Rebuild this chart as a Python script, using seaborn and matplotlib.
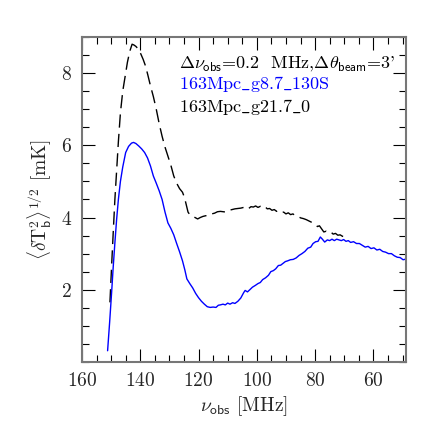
"""Rms brightness temperature fluctuation vs observed frequency."""

import matplotlib
matplotlib.use("Agg")
import matplotlib.pyplot as plt
import pandas as pd
import seaborn as sns
from matplotlib.ticker import MultipleLocator

# blue solid: 163Mpc_g8.7_130S
nu_blue = [151.2, 150.5, 149.8, 149.3, 148.7, 148.1, 147.5, 146.8, 146.0, 145.0,
           144.0, 143.0, 142.3, 141.5, 140.5, 139.5, 138.5, 137.5, 136.5, 135.5,
           134.5, 133.5, 132.5, 131.5, 130.5, 129.5, 128.5, 127.5, 126.5, 125.5,
           124.7, 124.0, 123.0, 122.0, 121.0, 120.0, 119.0, 118.0, 117.0, 116.0,
           115.0, 114.0, 113.2, 112.5, 111.6, 110.8, 110.0, 109.2, 108.3, 107.5,
           106.5, 105.5, 104.5, 104.0, 103.2, 102.4, 101.5, 100.5, 99.6, 98.8,
           98.0, 97.0, 96.0, 95.2, 94.3, 93.5, 92.6, 91.8, 91.0, 90.2,
           89.4, 88.5, 87.5, 86.5, 85.5, 84.5, 83.5, 82.5, 81.5, 80.7,
           79.8, 79.0, 78.2, 77.5, 76.7, 75.8, 75.0, 74.2, 73.4, 72.6,
           71.8, 71.0, 70.2, 69.4, 68.6, 67.8, 66.8, 65.8, 64.8, 63.8,
           62.8, 61.8, 60.8, 59.8, 58.8, 57.8, 56.8, 55.8, 54.8, 53.8,
           52.8, 51.8, 50.8, 49.8, 48.8]
dT_blue = [0.31, 1.1, 1.95, 2.6, 3.3, 3.95, 4.5, 5.0, 5.4, 5.8,
           5.97, 6.06, 6.08, 6.05, 5.98, 5.9, 5.8, 5.65, 5.43, 5.15,
           4.95, 4.74, 4.5, 4.15, 3.85, 3.7, 3.52, 3.28, 3.05, 2.8,
           2.55, 2.3, 2.17, 2.05, 1.9, 1.78, 1.68, 1.6, 1.53, 1.51,
           1.52, 1.51, 1.57, 1.58, 1.60, 1.58, 1.63, 1.60, 1.64, 1.62,
           1.68, 1.77, 1.92, 1.98, 1.94, 2.0, 2.07, 2.12, 2.17, 2.2,
           2.28, 2.33, 2.40, 2.5, 2.53, 2.58, 2.67, 2.68, 2.73, 2.78,
           2.80, 2.83, 2.84, 2.88, 2.95, 3.0, 3.06, 3.15, 3.18, 3.28,
           3.33, 3.34, 3.46, 3.40, 3.32, 3.38, 3.36, 3.40, 3.36, 3.40,
           3.38, 3.36, 3.39, 3.34, 3.36, 3.31, 3.33, 3.28, 3.28, 3.23,
           3.18, 3.20, 3.14, 3.16, 3.10, 3.12, 3.06, 3.04, 3.00, 3.00,
           2.94, 2.90, 2.89, 2.83, 2.85]

# black dashed: 163Mpc_g21.7_0
nu_black = [150.4, 149.8, 149.2, 148.7, 148.1, 147.5, 146.8, 146.0, 145.2, 144.4,
            143.6, 142.8, 142.2, 141.5, 140.6, 139.8, 139.0, 138.2, 137.4, 136.5,
            135.5, 134.5, 133.5, 132.5, 131.5, 130.5, 129.5, 128.5, 127.5, 126.5,
            125.5, 124.8, 124.2, 123.6, 123.0, 122.2, 121.2, 120.3, 119.4, 118.5,
            117.5, 116.5, 115.5, 114.5, 113.5, 112.5, 111.5, 110.5, 109.5, 108.5,
            107.5, 106.5, 105.5, 104.5, 103.5, 102.8, 102.0, 101.2, 100.4, 99.6,
            98.8, 98.0, 97.2, 96.4, 95.6, 94.8, 94.0, 93.2, 92.4, 91.6,
            90.8, 90.0, 89.2, 88.4, 87.6, 86.8, 86.0, 85.0, 84.0, 83.0,
            82.0, 81.0, 80.0, 79.2, 78.5, 77.8, 77.0, 76.2, 75.4, 74.6,
            73.8, 73.0, 72.2, 71.4, 70.6, 70.0]
dT_black = [1.65, 2.7, 3.7, 4.5, 5.3, 6.1, 6.9, 7.5, 7.9, 8.3,
            8.6, 8.8, 8.78, 8.74, 8.66, 8.53, 8.38, 8.2, 7.95, 7.65,
            7.35, 7.0, 6.6, 6.25, 5.95, 5.7, 5.45, 5.15, 4.95, 4.8,
            4.7, 4.55, 4.35, 4.15, 4.08, 4.04, 4.0, 3.96, 4.0, 4.03,
            4.05, 4.05, 4.1, 4.12, 4.16, 4.17, 4.16, 4.15, 4.2, 4.22,
            4.24, 4.25, 4.26, 4.28, 4.3, 4.25, 4.3, 4.29, 4.32, 4.28,
            4.31, 4.27, 4.3, 4.24, 4.25, 4.2, 4.22, 4.17, 4.19, 4.14,
            4.15, 4.1, 4.13, 4.08, 4.1, 4.05, 4.04, 3.99, 3.97, 3.94,
            3.9, 3.86, 3.82, 3.75, 3.77, 3.69, 3.60, 3.62, 3.58, 3.60,
            3.54, 3.56, 3.51, 3.52, 3.48, 3.47]

x_ticks = [160, 140, 120, 100, 80, 60]
y_ticks = [2, 4, 6, 8]

# cmr10 has no real underscore, take it from cmtt10 through mathtext
US = r"$\mathtt{\_}$"
label_blue = "163Mpc" + US + "g8.7" + US + "130S"
label_black = "163Mpc" + US + "g21.7" + US + "0"

sns.set_style("ticks")
plt.rcParams["font.family"] = ["cmr10", "DejaVu Serif"]
plt.rcParams["mathtext.fontset"] = "cm"
plt.rcParams["axes.formatter.use_mathtext"] = True

blue = pd.DataFrame({"nu": nu_blue, "dT": dT_blue})
black = pd.DataFrame({"nu": nu_black, "dT": dT_black})

fig = plt.figure(figsize=(4.43, 4.43), dpi=100)
ax = fig.add_axes([0.185, 0.183, 0.7315, 0.7335])

sns.lineplot(data=black, x="nu", y="dT", sort=False, estimator=None, ax=ax,
             color="black", linewidth=1.0, linestyle=(0, (9.5, 4.5)))
sns.lineplot(data=blue, x="nu", y="dT", sort=False, estimator=None, ax=ax,
             color="blue", linewidth=1.0)

ax.set_xlim(160, 48.8)
ax.set_ylim(0, 9)
ax.set_xticks(x_ticks)
ax.set_yticks(y_ticks)
ax.xaxis.set_minor_locator(MultipleLocator(5))
ax.yaxis.set_minor_locator(MultipleLocator(0.5))
ax.tick_params(which="both", direction="in", top=True, right=True,
               color="black", width=0.8, labelsize=14)
ax.tick_params(which="major", length=9.5, pad=7)
ax.tick_params(which="minor", length=5)
for sp in ax.spines.values():
    sp.set_color("#777777")
    sp.set_linewidth(1.5)

ax.set_xlabel(r"$\nu_{\mathsf{obs}}$ [MHz]", fontsize=14, labelpad=3)
ax.set_ylabel(r"$\langle\delta \mathrm{T}_{\mathsf{b}}^2\rangle^{1/2}$ [mK]",
              fontsize=14, labelpad=5)

ax.text(0.30, 0.905,
        r"$\Delta\nu_{\mathsf{obs}}$=0.2  MHz,$\Delta\theta_{\mathsf{beam}}$=3'",
        transform=ax.transAxes, fontsize=13, color="black")
ax.text(0.30, 0.84, label_blue, transform=ax.transAxes,
        fontsize=13, color="blue")
ax.text(0.30, 0.768, label_black, transform=ax.transAxes,
        fontsize=13, color="black")

fig.savefig("out.png", dpi=100)
